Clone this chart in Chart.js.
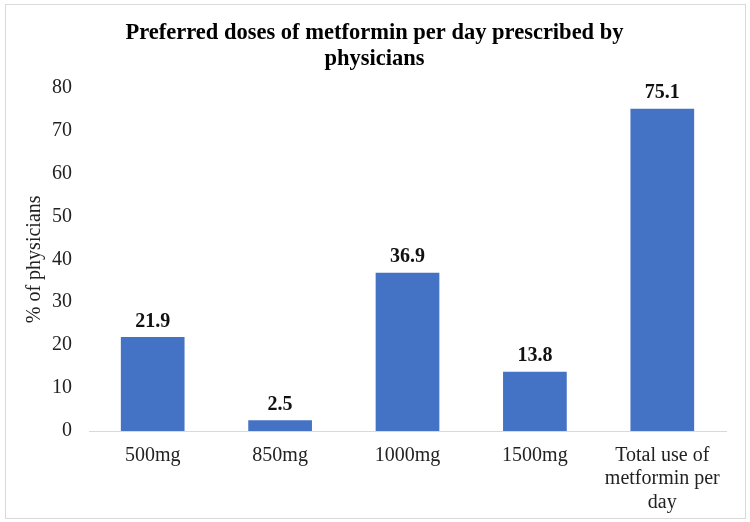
<!DOCTYPE html>
<html>
<head>
<meta charset="utf-8">
<script src="https://cdn.jsdelivr.net/npm/chart.js@4"></script>
<style>
html,body{margin:0;padding:0;background:#fff;}
#wrap{width:750px;height:522px;position:relative;}
</style>
</head>
<body>
<div id="wrap"><canvas id="c" width="750" height="522"></canvas></div>
<script>
const categories = ["500mg", "850mg", "1000mg", "1500mg", ["Total use of", "metformin per", "day"]];
const values = [21.9, 2.5, 36.9, 13.8, 75.1];
const yTicks = [0, 10, 20, 30, 40, 50, 60, 70, 80];
const titleLines = ["Preferred doses of metformin per day prescribed by", "physicians"];
const yTitle = "% of physicians";

const FONT = "'Liberation Serif', 'Times New Roman', serif";

const frame = {
  id: 'frame',
  beforeDraw(chart) {
    const ctx = chart.ctx;
    ctx.save();
    ctx.fillStyle = '#fff';
    ctx.fillRect(0, 0, chart.width, chart.height);
    ctx.strokeStyle = '#d9d9d9';
    ctx.lineWidth = 1;
    ctx.strokeRect(5.5, 4.5, 740, 514);
    ctx.restore();
  }
};

const valueLabels = {
  id: 'valueLabels',
  afterDatasetsDraw(chart) {
    const ctx = chart.ctx;
    const meta = chart.getDatasetMeta(0);
    ctx.save();
    ctx.font = "bold 20px " + FONT;
    ctx.fillStyle = '#111';
    ctx.textAlign = 'center';
    ctx.textBaseline = 'middle';
    meta.data.forEach((bar, i) => {
      ctx.fillText(values[i].toFixed(1), bar.x, bar.y - 15.5);
    });
    ctx.restore();
  }
};

new Chart(document.getElementById('c'), {
  type: 'bar',
  data: {
    labels: categories,
    datasets: [{
      data: values,
      backgroundColor: '#4472C4',
      categoryPercentage: 1,
      barPercentage: 0.5
    }]
  },
  options: {
    responsive: false,
    animation: false,
    layout: { padding: { left: 23, right: 24, top: 0, bottom: 0 } },
    plugins: {
      legend: { display: false },
      tooltip: { enabled: false },
      title: {
        display: true,
        text: titleLines,
        color: '#000',
        font: { family: FONT, size: 22.5, weight: 'bold', lineHeight: 1.17 },
        padding: { top: 20, bottom: 15 }
      }
    },
    scales: {
      x: {
        grid: { display: false, drawTicks: false },
        border: { color: '#d9d9d9', width: 1 },
        ticks: {
          color: '#222',
          font: { family: FONT, size: 20, lineHeight: 1.17 },
          padding: 13,
          maxRotation: 0
        },
        afterFit(scale) { scale.height = 91; }
      },
      y: {
        min: 0,
        max: 80,
        afterBuildTicks(scale) { scale.ticks = yTicks.map(v => ({ value: v })); },
        grid: { display: false, drawTicks: false },
        border: { display: false },
        ticks: {
          color: '#222',
          font: { family: FONT, size: 20 },
          padding: 17
        },
        title: {
          display: true,
          text: yTitle,
          color: '#222',
          font: { family: FONT, size: 20, lineHeight: 1.2 },
          padding: 0
        },
        afterFit(scale) { scale.width = 66; }
      }
    }
  },
  plugins: [frame, valueLabels]
});
</script>
</body>
</html>
